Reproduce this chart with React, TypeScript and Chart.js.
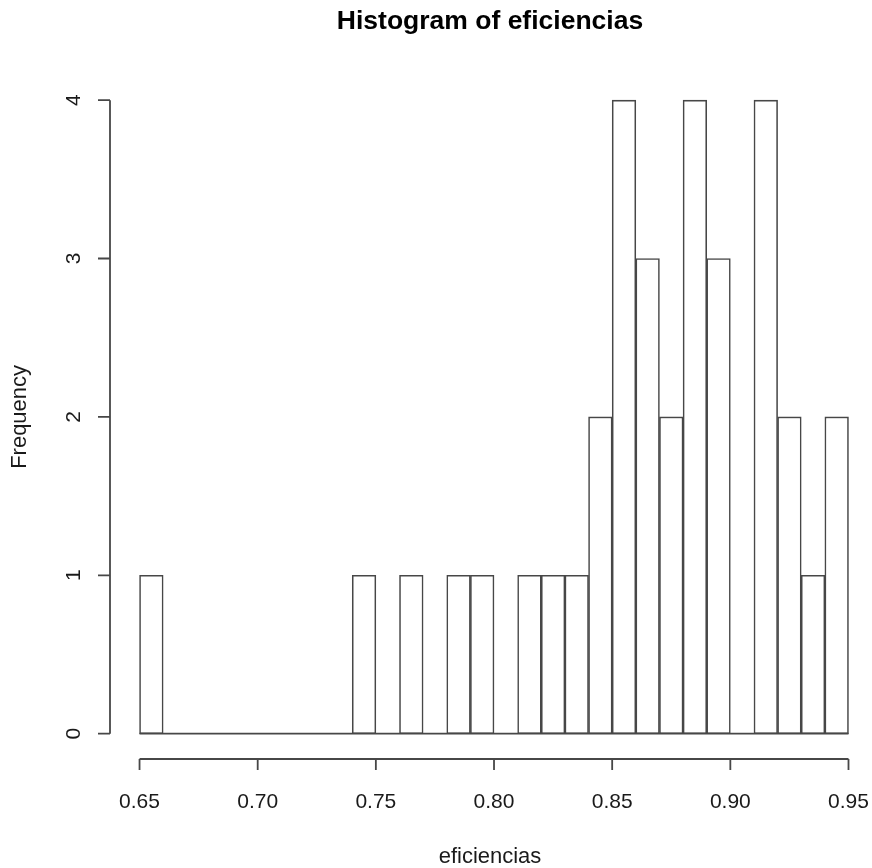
import { useEffect, useRef } from "react";
import { Chart, registerables } from "chart.js";

Chart.register(...registerables);

const FONT = "'Liberation Sans', Arial, Helvetica, sans-serif";

// Histogram bin edges (width 0.01)
const BREAKS = [
  0.65, 0.66, 0.67, 0.68, 0.69, 0.7, 0.71, 0.72, 0.73, 0.74, 0.75, 0.76, 0.77, 0.78, 0.79, 0.8,
  0.81, 0.82, 0.83, 0.84, 0.85, 0.86, 0.87, 0.88, 0.89, 0.9, 0.91, 0.92, 0.93, 0.94, 0.95,
];
// Frequency per bin
const COUNTS = [
  1, 0, 0, 0, 0, 0, 0, 0, 0, 1, 0, 1, 0, 1, 1, 0, 1, 1, 1, 2, 4, 3, 2, 4, 3, 0, 4, 2, 1, 2,
];
const X_TICKS = [0.65, 0.7, 0.75, 0.8, 0.85, 0.9, 0.95];
const Y_TICKS = [0, 1, 2, 3, 4];

const TITLE = "Histogram of eficiencias";
const X_LABEL = "eficiencias";
const Y_LABEL = "Frequency";

const LINE = "#474747";

const rAxes = {
  id: "rAxes",
  afterDatasetsDraw(chart: any) {
    const { ctx, chartArea, scales } = chart;
    const x = scales.x;
    const y = scales.y;
    const x0 = x.getPixelForValue(BREAKS[0]);
    const x1 = x.getPixelForValue(BREAKS[BREAKS.length - 1]);
    ctx.save();
    ctx.strokeStyle = LINE;
    ctx.lineWidth = 1.8;
    // baseline of the histogram (zero-height bins)
    const yb = y.getPixelForValue(0);
    ctx.beginPath();
    ctx.moveTo(x0, yb);
    ctx.lineTo(x1, yb);
    ctx.stroke();
    // x axis (detached, R style)
    const ay = chartArea.bottom;
    ctx.beginPath();
    ctx.moveTo(x.getPixelForValue(X_TICKS[0]), ay);
    ctx.lineTo(x.getPixelForValue(X_TICKS[X_TICKS.length - 1]), ay);
    for (const t of X_TICKS) {
      const px = x.getPixelForValue(t);
      ctx.moveTo(px, ay);
      ctx.lineTo(px, ay + 11);
    }
    ctx.stroke();
    // y axis
    const ax = chartArea.left;
    ctx.beginPath();
    ctx.moveTo(ax, y.getPixelForValue(Y_TICKS[0]));
    ctx.lineTo(ax, y.getPixelForValue(Y_TICKS[Y_TICKS.length - 1]));
    for (const t of Y_TICKS) {
      const py = y.getPixelForValue(t);
      ctx.moveTo(ax, py);
      ctx.lineTo(ax - 12, py);
    }
    ctx.stroke();
    ctx.restore();
  },
};

export default function App() {
  const ref = useRef<HTMLCanvasElement | null>(null);
  useEffect(() => {
    document.body.style.margin = "0";
    if (!ref.current) return;
    const centers = COUNTS.map((_, i) => (BREAKS[i] + BREAKS[i + 1]) / 2);
    const chart = new Chart(ref.current, {
      type: "bar",
      data: {
        datasets: [
          {
            data: COUNTS.map((c, i) => ({ x: centers[i], y: c })),
            backgroundColor: "#ffffff",
            borderColor: LINE,
            borderWidth: 1.6,
            borderSkipped: false,
            barPercentage: 1,
            categoryPercentage: 1,
          } as any,
        ],
      },
      options: {
        responsive: false,
        animation: false,
        devicePixelRatio: 1,
        layout: { padding: { left: 0, right: 2, top: 0, bottom: 0 } },
        plugins: {
          legend: { display: false },
          tooltip: { enabled: false },
          title: {
            display: true,
            text: TITLE,
            fullSize: false,
            color: "#000",
            font: { family: FONT, size: 26.5, weight: "bold" },
            padding: { top: 6, bottom: 37 },
          },
        },
        scales: {
          x: {
            type: "linear",
            min: 0.6375,
            max: 0.9591,
            offset: false,
            afterBuildTicks: (s: any) => {
              s.ticks = X_TICKS.map((v) => ({ value: v }));
            },
            afterFit: (s: any) => {
              s.height = 109;
            },
            grid: { display: false, drawTicks: true, tickLength: 30 },
            border: { display: false },
            ticks: {
              padding: 1,
              color: "#1a1a1a",
              font: { family: FONT, size: 21 },
              maxRotation: 0,
              minRotation: 0,
              autoSkip: false,
              callback: (v: any) => Number(v).toFixed(2),
            },
            title: {
              display: true,
              text: X_LABEL,
              color: "#1a1a1a",
              font: { family: FONT, size: 22 },
              padding: { top: 0, bottom: -2 },
            },
          },
          y: {
            type: "linear",
            min: -0.16,
            max: 4.16,
            afterBuildTicks: (s: any) => {
              s.ticks = Y_TICKS.map((v) => ({ value: v }));
            },
            afterFit: (s: any) => {
              s.width = 110;
            },
            grid: { display: false, drawTicks: true, tickLength: 29 },
            border: { display: false },
            ticks: {
              padding: 1,
              color: "#1a1a1a",
              font: { family: FONT, size: 21 },
              minRotation: 90,
              maxRotation: 90,
              crossAlign: "center",
              autoSkip: false,
              callback: (v: any) => String(v),
            },
            title: {
              display: true,
              text: Y_LABEL,
              color: "#1a1a1a",
              font: { family: FONT, size: 22 },
              padding: { top: 7, bottom: 0 },
            },
          },
        },
      } as any,
      plugins: [rAxes],
    });
    return () => chart.destroy();
  }, []);
  return (
    <canvas ref={ref} width={872} height={868} style={{ display: "block", width: 872, height: 868 }} />
  );
}
